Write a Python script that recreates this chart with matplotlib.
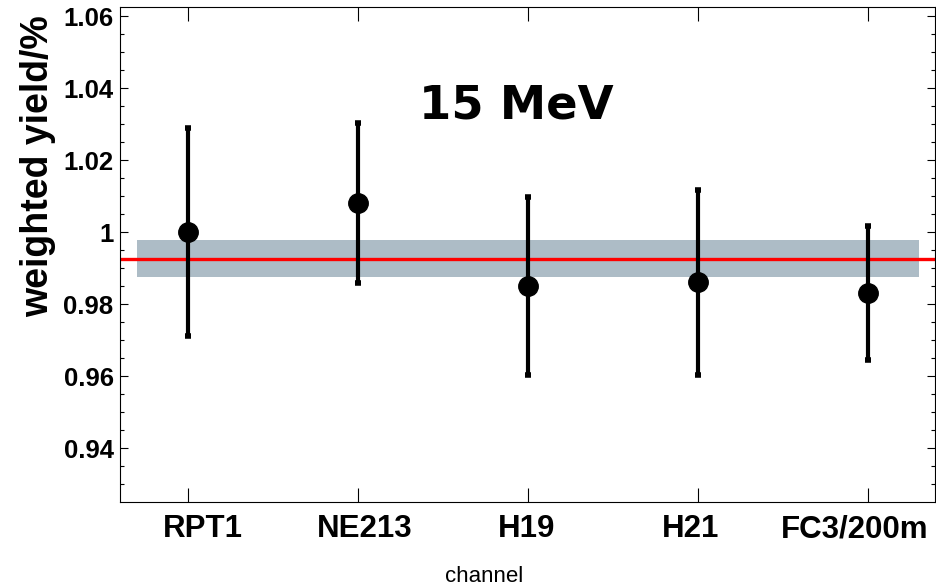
import matplotlib
matplotlib.use('Agg')
import matplotlib.pyplot as plt
from matplotlib.ticker import MultipleLocator

# values
channels = ['RPT1', 'NE213', 'H19', 'H21', 'FC3/200m']
yields = [1.000, 1.008, 0.985, 0.986, 0.983]
errors = [0.029, 0.0222, 0.0246, 0.0256, 0.0186]
mean_yield = 0.9925
band_lo = 0.9874
band_hi = 0.9977
# the bin labels sit a little off the tick marks in the original
label_pos = [0.089, 1.039, 1.992, 2.957, 3.922]

plt.rcParams['font.family'] = 'Liberation Sans'

fig = plt.figure(figsize=(9.36, 5.87), dpi=100)
ax = fig.add_axes([0.1287, 0.1453, 0.8703, 0.8433])

x = list(range(len(channels)))

ax.fill_between([-0.3, len(channels) - 0.7], band_lo, band_hi,
                color='#adbcc6', lw=0, zorder=1)
ax.axhline(mean_yield, color='#ff0000', lw=2.4, zorder=2)
ax.errorbar(x, yields, yerr=errors, fmt='o', color='black', ms=14,
            elinewidth=3, capsize=2.4, capthick=4, zorder=3)

ax.set_xlim(-0.395, len(channels) - 1 + 0.395)
ax.set_ylim(0.9251, 1.0626)

# major ticks carry the marks, minor ticks carry the labels
ax.set_xticks(x)
ax.set_xticklabels([''] * len(x))
ax.set_xticks(label_pos, minor=True)
ax.set_xticklabels(channels, minor=True, fontsize=22.5, fontweight='bold')

ax.yaxis.set_minor_locator(MultipleLocator(0.005))
ax.set_yticks([0.94, 0.96, 0.98, 1.00, 1.02, 1.04, 1.06])
ax.set_yticklabels(['0.94', '0.96', '0.98', '1', '1.02', '1.04', '1.06'],
                   fontsize=18.5, fontweight='bold')

ax.tick_params(axis='y', which='major', direction='in', length=5.8, width=0.8,
               left=True, right=True, pad=5)
ax.tick_params(axis='y', which='minor', direction='in', length=2.9, width=0.8,
               left=True, right=True)
ax.tick_params(axis='x', which='major', direction='in', length=10, width=0.8,
               top=True, bottom=True)
ax.tick_params(axis='x', which='minor', direction='in', length=0,
               top=False, bottom=False, pad=9)

for s in ax.spines.values():
    s.set_linewidth(0.8)

ax.text(516 / 936, 1 - 106 / 587, '15 MeV', transform=fig.transFigure,
        ha='center', va='center', fontsize=33.5, fontweight='bold',
        family='DejaVu Sans')

fig.text(38 / 936, 1 - 15 / 587, 'weighted yield/%', rotation=90,
         ha='center', va='top', fontsize=27, fontweight='bold')
fig.text(484 / 936, 1 - 576 / 587, 'channel', ha='center', va='center',
         fontsize=16)

fig.savefig('out.png', dpi=100)
